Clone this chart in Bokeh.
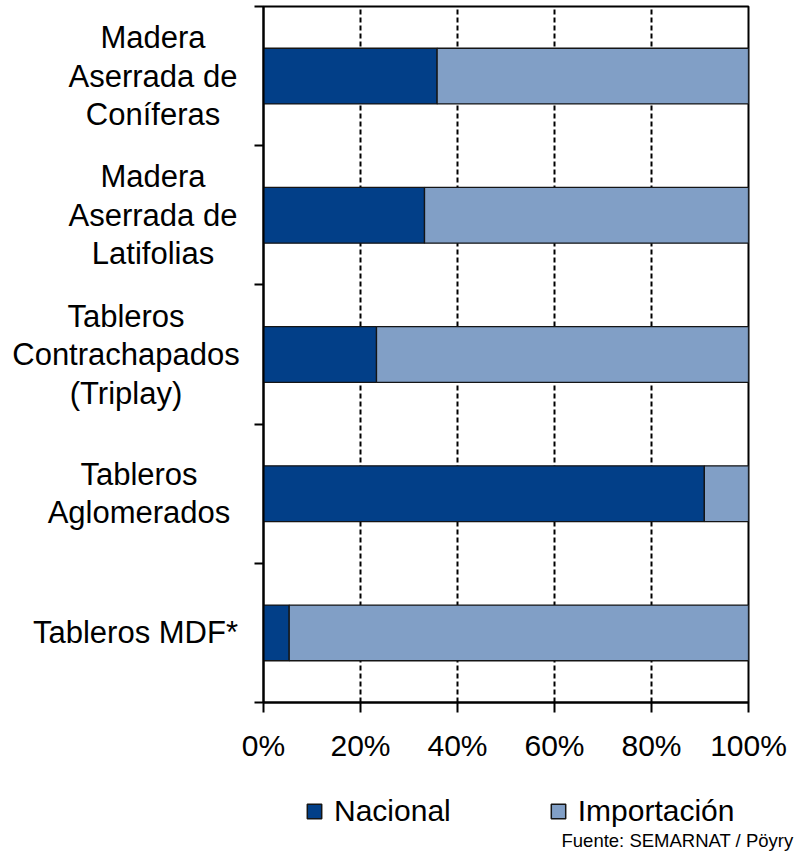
from bokeh.plotting import figure
from bokeh.layouts import row, column
from bokeh.models import (ColumnDataSource, Range1d, FixedTicker, Legend, LegendItem)
from bokeh.core.properties import value
from bokeh.embed import file_html
from bokeh.resources import INLINE

# ---------------- data ----------------
categories = ["Madera\nAserrada de\nConíferas",
              "Madera\nAserrada de\nLatifolias",
              "Tableros\nContrachapados\n(Triplay)",
              "Tableros\nAglomerados",
              "Tableros MDF*"]
nacional = [35.8, 33.2, 23.3, 90.9, 5.3]
importacion = [64.2, 66.8, 76.7, 9.1, 94.7]
series_names = ["Nacional", "Importación"]
x_ticks = [0, 20, 40, 60, 80, 100]
x_tick_labels = ["0%", "20%", "40%", "60%", "80%", "100%"]
source_note = "Fuente: SEMARNAT / Pöyry"

# ---------------- layout / styling ----------------
FONT = "Liberation Sans"
DARK = "#023F88"
LIGHT = "#819FC6"
EDGE = "#151515"
LEFT_W = 240           # width of the category-label column (px)
MAIN_LB = 23           # left border of the main chart (holds the y ticks)
TOP = 6
FRAME_H = 696
BOTTOM = 70
TOTAL_W = 795
label_center_px = [152.5, 152.5, 125.5, 138.5, 135]   # horizontal centre of each label block

n = len(categories)
ypos = [n - i - 0.5 for i in range(n)]
yr = Range1d(0, n)

# ---- main chart ----
src = ColumnDataSource(dict(y=ypos, nacional=nacional, importacion=importacion))
p = figure(frame_width=485, frame_height=FRAME_H, output_backend="svg", toolbar_location=None,
           x_range=Range1d(0, 100), y_range=yr,
           min_border_left=MAIN_LB, min_border_right=TOTAL_W - LEFT_W - MAIN_LB - 485,
           min_border_top=TOP, min_border_bottom=BOTTOM)
rs = p.hbar_stack(["nacional", "importacion"], y="y", height=0.4, source=src,
                  color=[DARK, LIGHT], line_width=1.3)
for r in rs:
    r.glyph.line_color = EDGE

p.outline_line_color = "black"
p.outline_line_width = 2

p.xaxis.ticker = FixedTicker(ticks=x_ticks)
p.xaxis.major_label_overrides = {t: l for t, l in zip(x_ticks, x_tick_labels)}
p.xaxis.major_label_text_font = FONT
p.xaxis.major_label_text_font_size = "30px"
p.xaxis.major_label_text_color = "black"
p.xaxis.major_tick_out = 10
p.xaxis.major_tick_in = 0
p.xaxis.minor_tick_line_color = None
p.xaxis.axis_line_width = 2
p.xaxis.major_tick_line_width = 2
p.xaxis.axis_line_color = "black"
p.xaxis.major_tick_line_color = "black"
p.xaxis.major_label_standoff = 16

p.yaxis.ticker = FixedTicker(ticks=list(range(n + 1)))
p.yaxis.major_label_overrides = {i: "" for i in range(n + 1)}
p.yaxis.major_label_text_font_size = "0px"
p.yaxis.major_label_standoff = 0
p.yaxis.major_tick_out = 9
p.yaxis.major_tick_in = 0
p.yaxis.minor_tick_line_color = None
p.yaxis.axis_line_width = 2
p.yaxis.major_tick_line_width = 2
p.yaxis.axis_line_color = "black"
p.yaxis.major_tick_line_color = "black"

p.xgrid.grid_line_color = "black"
p.xgrid.grid_line_dash = "5 3"
p.xgrid.grid_line_width = 2
p.ygrid.grid_line_color = None

# ---- category label column ----
lf = figure(frame_width=LEFT_W, frame_height=FRAME_H, output_backend="svg",
            toolbar_location=None, x_range=Range1d(0, LEFT_W), y_range=yr,
            min_border_left=0, min_border_right=0, min_border_top=TOP,
            min_border_bottom=BOTTOM, outline_line_color=None)
lf.axis.visible = False
lf.grid.visible = False
lf.text(x=label_center_px, y=ypos, text=categories, text_align="center",
        text_baseline="middle", text_font=value(FONT), text_font_size="31px",
        text_color="black", text_line_height=1.1)

# ---- legend / source strip ----
BH = 83
bf = figure(frame_width=TOTAL_W, frame_height=BH, output_backend="svg",
            toolbar_location=None, x_range=Range1d(0, TOTAL_W), y_range=Range1d(0, BH),
            min_border_left=0, min_border_right=0, min_border_top=0, min_border_bottom=0,
            outline_line_color=None)
bf.axis.visible = False
bf.grid.visible = False
# legend-swatch renderers (kept outside the visible range; only their styles are used)
d0 = bf.hbar(y=[-1000], left=[0], right=[0], height=1, fill_color=DARK, line_color=EDGE, line_width=1.5)
d1 = bf.hbar(y=[-1000], left=[0], right=[0], height=1, fill_color=LIGHT, line_color=EDGE, line_width=1.5)
legend = Legend(items=[LegendItem(label=series_names[0], renderers=[d0]),
                       LegendItem(label=series_names[1], renderers=[d1])],
                orientation="horizontal", location=(305, 27),
                glyph_width=18, glyph_height=18, label_standoff=11, spacing=98,
                label_text_font=FONT, label_text_font_size="30px",
                label_text_color="black", border_line_color=None,
                background_fill_alpha=0, padding=0, margin=0)
bf.add_layout(legend, "center")
bf.text(x=[793], y=[15], text=[source_note], text_align="right", text_baseline="middle",
        text_font=value(FONT), text_font_size="18.5px", text_color="black")

layout = column(row(lf, p, spacing=0), bf, spacing=0)
open("out.html", "w").write(file_html(layout, INLINE))
